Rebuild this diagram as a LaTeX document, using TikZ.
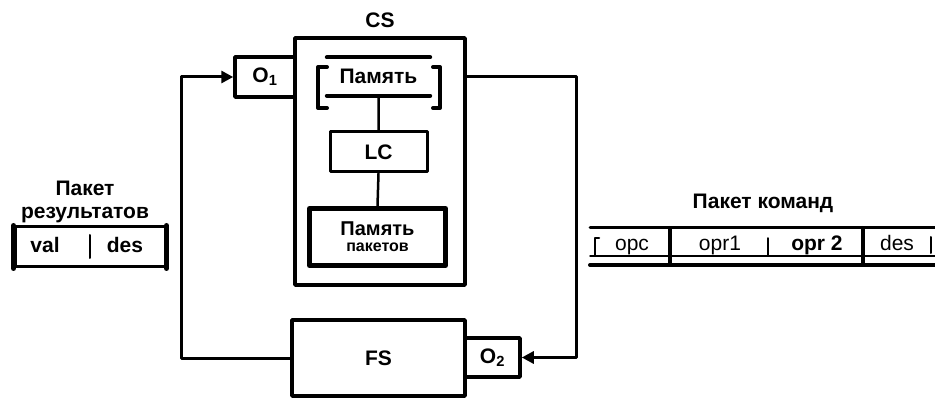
\documentclass[tikz,border=0pt]{standalone}
\usepackage{fontspec}
\setmainfont{Liberation Sans}
\usetikzlibrary{arrows.meta}
\begin{document}
\begin{tikzpicture}[x=1pt, y=-1pt, font=\fontsize{21}{23}\selectfont\bfseries, line join=round, line cap=round, >={Triangle[length=12pt,width=12pt]},
	box/.style={draw, line width=3.5pt, inner sep=0pt},
	link/.style={line width=3pt},
	cell/.style={anchor=base, font=\fontsize{21}{23}\selectfont}]
	\useasboundingbox (0,0) rectangle (935,398);
	% CS with its parts
	\node[box, minimum width=170pt, minimum height=247pt] (cs) at (380,161.5) {};
	\node (cslbl) at (380,20) {CS};
	\node[inner sep=0pt, minimum width=103pt, minimum height=38pt] (mem) at (378.5,76.5) {Память};
	\draw[line width=4pt] (mem.north west) -- (mem.north east) (mem.south west) -- (mem.south east);
	\draw[line width=4pt] (327,67) -| (318,108) -- (327,108);
	\draw[line width=4pt] (433,67) -| (440,108) -- (433,108);
	\node[box, line width=3pt, minimum width=97pt, minimum height=40pt] (lc) at (378.5,152) {LC};
	\node[box, line width=5pt, minimum width=136pt, minimum height=57pt, align=center, font=\fontsize{20}{16}\selectfont\bfseries] (pmem) at (377.5,237) {Память\\{\fontsize{16}{16}\selectfont пакетов}};
	\draw[line width=2.5pt] (mem.south) -- (lc.north) (lc.south) -- (pmem.north);
	% FS and the two queues
	\node[box, minimum width=60pt, minimum height=40pt] (o1) at (265,77) {O\textsubscript{1}};
	\node[box, minimum width=173pt, minimum height=76pt] (fs) at (378.5,358) {FS};
	\node[box, minimum width=55pt, minimum height=39pt] (o2) at (492.5,357.5) {O\textsubscript{2}};
	\draw[link,->] (fs.west) -- ++(-109,0) |- (o1.west);
	\draw[link,->] (o1.east -| cs.east) -- ++(110,0) |- (o2.east);
	% result packet
	\node[align=center] (rlbl) at (85,202) {Пакет\\результатов};
	\node[draw, line width=3pt, minimum width=150pt, minimum height=40pt] (rpk) at (90,247) {};
	\draw[line width=5pt] (rpk.north west) -- (rpk.south west) (rpk.north east) -- (rpk.south east);
	\draw[line width=2pt] (90,235) -- (90,258);
	\node[anchor=base] (val) at (45,253) {val};
	\node[anchor=base] (rdes) at (125,253) {des};
	% command packet
	\node (clbl) at (763,203) {Пакет команд};
	\draw[line width=3pt] (590,228) -- (935,228);
	\draw[line width=1.5pt] (590,256) -- (935,256);
	\draw[line width=4pt] (590,265) -- (935,265);
	\draw[line width=4pt] (670,228) -- (670,265) (863,228) -- (863,265);
	\draw[line width=1.5pt] (768,238) -- (768,255);
	\draw[line width=2.5pt] (599,238) -| (595,255);
	\draw[line width=2pt] (931,237) -- (931,253);
	\node[cell] (opc) at (632,251) {opc};
	\node[cell] (opa) at (720,251) {opr1};
	\node[cell, font=\fontsize{21}{23}\selectfont\bfseries] (opb) at (817,251) {opr 2};
	\node[cell] (cdes) at (897,251) {des};
\end{tikzpicture}
\end{document}
